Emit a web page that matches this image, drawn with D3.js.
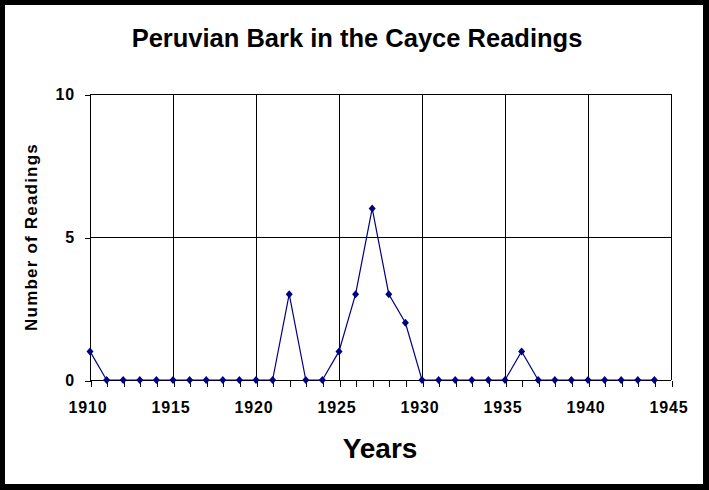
<!DOCTYPE html>
<html>
<head>
<meta charset="utf-8">
<script src="https://cdn.jsdelivr.net/npm/d3@7"></script>
<style>
	body { margin: 0; background: #000; }
	svg { display: block; }
	text { font-family: Arial, "Liberation Sans", sans-serif; font-weight: bold; fill: #000; }
</style>
</head>
<body>
<script>
// データ(年ごとの件数)
var years = [1910, 1911, 1912, 1913, 1914, 1915, 1916, 1917, 1918, 1919,
	1920, 1921, 1922, 1923, 1924, 1925, 1926, 1927, 1928, 1929,
	1930, 1931, 1932, 1933, 1934, 1935, 1936, 1937, 1938, 1939,
	1940, 1941, 1942, 1943, 1944];
var readings = [1, 0, 0, 0, 0, 0, 0, 0, 0, 0,
	0, 0, 3, 0, 0, 1, 3, 6, 3, 2,
	0, 0, 0, 0, 0, 0, 1, 0, 0, 0,
	0, 0, 0, 0, 0];
var x_ticks = [1910, 1915, 1920, 1925, 1930, 1935, 1940, 1945];
var y_ticks = [0, 5, 10];

var title_text = "Peruvian Bark in the Cayce Readings";
var x_title = "Years";
var y_title = "Number of Readings";

var W = 709, H = 490;
var line_color = "#000080";

var svg = d3.select("body").append("svg")
	.attr("width", W)
	.attr("height", H);

// 黒い枠と白い背景
svg.append("rect").attr("width", W).attr("height", H).attr("fill", "#000");
svg.append("rect")
	.attr("x", 5).attr("y", 5)
	.attr("width", 698).attr("height", 479)
	.attr("fill", "#fff");

// スケール
var xScale = d3.scaleLinear().domain([1910, 1945]).range([90, 671]);
var yScale = d3.scaleLinear().domain([0, 10]).range([380, 94]);

// グリッド線
var grid = svg.append("g").attr("shape-rendering", "crispEdges");
grid.selectAll(".vgrid")
	.data(x_ticks)
	.enter().append("line")
	.attr("x1", function(d){ return Math.round(xScale(d)) + 0.5; })
	.attr("x2", function(d){ return Math.round(xScale(d)) + 0.5; })
	.attr("y1", yScale(10))
	.attr("y2", yScale(0))
	.attr("stroke", "#000");
grid.selectAll(".hgrid")
	.data(y_ticks)
	.enter().append("line")
	.attr("x1", xScale(1910))
	.attr("x2", xScale(1945))
	.attr("y1", function(d){ return Math.round(yScale(d)) + 0.5; })
	.attr("y2", function(d){ return Math.round(yScale(d)) + 0.5; })
	.attr("stroke", "#000");

// X軸(毎年の目盛り)
var xAxis = d3.axisBottom(xScale)
	.tickValues(d3.range(1910, 1946))
	.tickSize(6)
	.tickFormat("");
svg.append("g")
	.attr("transform", "translate(0.5," + (Math.round(yScale(0)) + 0.5) + ")")
	.call(xAxis)
	.call(function(g){ g.select(".domain").remove(); })
	.selectAll("line").attr("stroke", "#000").attr("shape-rendering", "crispEdges");

// X軸ラベル
svg.append("g").selectAll("text")
	.data(x_ticks)
	.enter().append("text")
	.attr("x", function(d){ return xScale(d) - 2; })
	.attr("y", 413)
	.attr("text-anchor", "middle")
	.style("font-size", "16px")
	.style("letter-spacing", "0.8px")
	.text(function(d){ return d; });

// Y軸
var yAxis = d3.axisLeft(yScale)
	.tickValues(y_ticks)
	.tickSize(6)
	.tickFormat("");
svg.append("g")
	.attr("transform", "translate(" + (Math.round(xScale(1910)) + 0.5) + ",0.5)")
	.call(yAxis)
	.call(function(g){ g.select(".domain").remove(); })
	.selectAll("line").attr("stroke", "#000").attr("shape-rendering", "crispEdges");

svg.append("g").selectAll("text")
	.data(y_ticks)
	.enter().append("text")
	.attr("x", 75)
	.attr("y", function(d){ return yScale(d) + 6; })
	.attr("text-anchor", "end")
	.style("font-size", "16px")
	.style("letter-spacing", "0.8px")
	.text(function(d){ return d; });

// 折れ線
var series = years.map(function(d, i){ return {year: d, value: readings[i]}; });
var line = d3.line()
	.x(function(d){ return xScale(d.year); })
	.y(function(d){ return yScale(d.value); });
svg.append("path")
	.datum(series)
	.attr("d", line)
	.attr("fill", "none")
	.attr("stroke", line_color)
	.attr("stroke-width", 1.2);

// ひし形マーカー
svg.append("g").selectAll("path")
	.data(series)
	.enter().append("path")
	.attr("transform", function(d){ return "translate(" + xScale(d.year) + "," + yScale(d.value) + ")"; })
	.attr("d", "M0,-4L3.5,0L0,4L-3.5,0Z")
	.attr("fill", line_color);

// タイトル
svg.append("text")
	.attr("x", 357)
	.attr("y", 47)
	.attr("text-anchor", "middle")
	.style("font-size", "25.5px")
	.text(title_text);

svg.append("text")
	.attr("x", 380)
	.attr("y", 458)
	.attr("text-anchor", "middle")
	.style("font-size", "28px")
	.text(x_title);

svg.append("text")
	.attr("transform", "translate(37,237) rotate(-90)")
	.attr("text-anchor", "middle")
	.style("font-size", "17px")
	.style("letter-spacing", "1.2px")
	.text(y_title);
</script>
</body>
</html>
